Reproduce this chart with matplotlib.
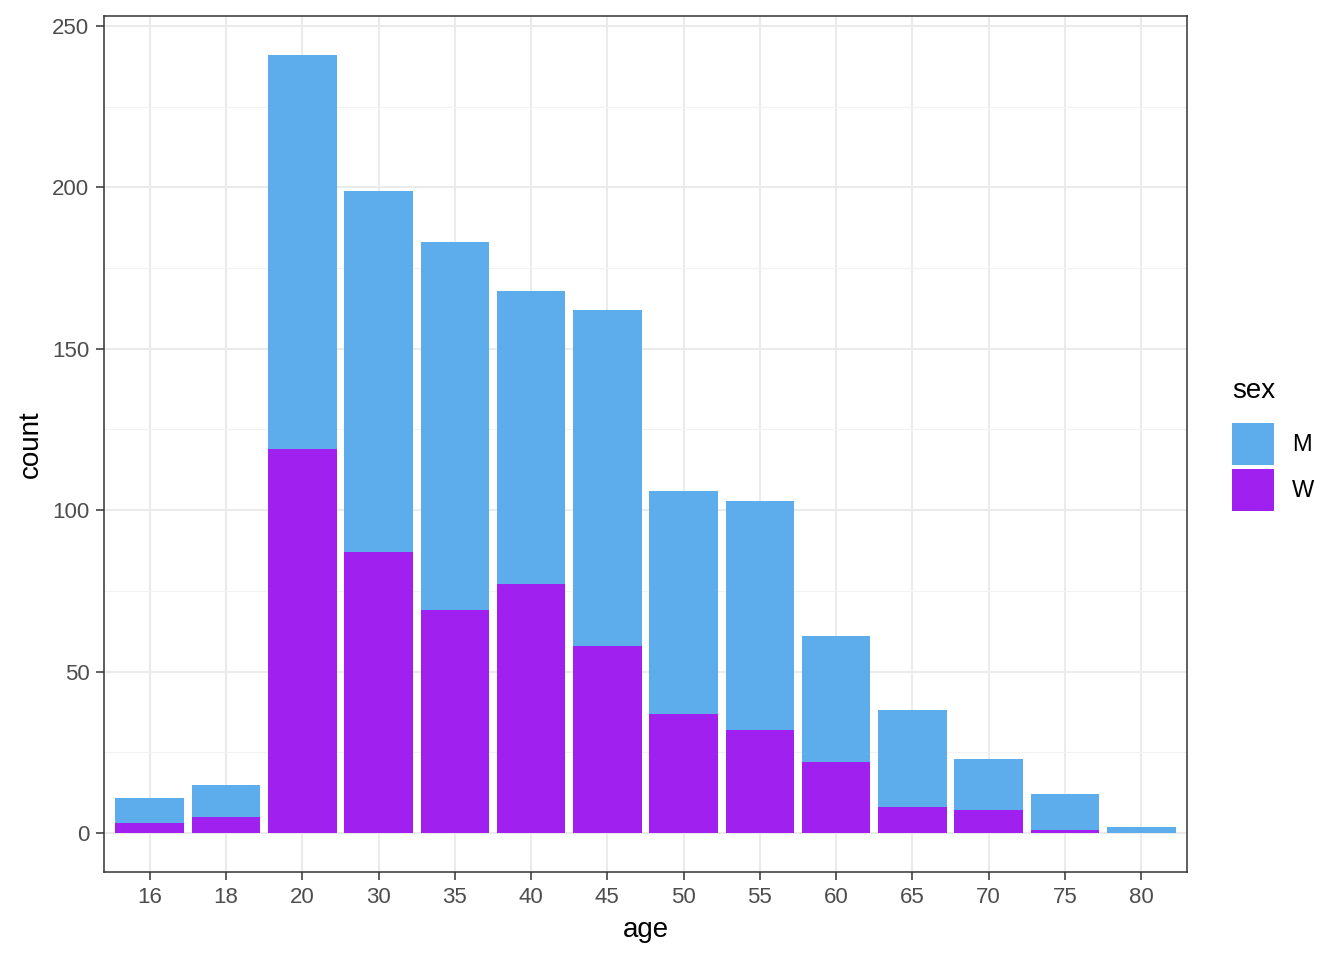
import numpy as np
import matplotlib
matplotlib.use('Agg')
import matplotlib.pyplot as plt
from matplotlib.patches import Patch
from matplotlib.ticker import MultipleLocator

ages = ['16', '18', '20', '30', '35', '40', '45', '50', '55', '60', '65', '70', '75', '80']
count_m = [8, 10, 122, 112, 114, 91, 104, 69, 71, 39, 30, 16, 11, 2]
count_w = [3, 5, 119, 87, 69, 77, 58, 37, 32, 22, 8, 7, 1, 0]

col_m = '#5DADEC'
col_w = '#A020F0'

plt.rcParams['font.family'] = ['Liberation Sans', 'DejaVu Sans']

fig = plt.figure(figsize=(13.44, 9.6), dpi=100)
ax = fig.add_axes([104 / 1344, 1 - 872 / 960, (1187 - 104) / 1344, (872 - 16) / 960])

x = np.arange(len(ages))
w = np.array(count_w)
m = np.array(count_m)
ax.bar(x, w, width=0.9, color=col_w, zorder=3)
ax.bar(x, m, width=0.9, bottom=w, color=col_m, zorder=3)

total = w + m
ymax = total.max()
ax.set_ylim(-0.05 * ymax, ymax * 1.05)
ax.set_xlim(-0.6, len(ages) - 1 + 0.6)

ax.set_xticks(x)
ax.set_xticklabels(ages)
ax.yaxis.set_major_locator(MultipleLocator(50))
ax.yaxis.set_minor_locator(MultipleLocator(25))

ax.grid(which='major', color='#EBEBEB', linewidth=1.5, zorder=0)
ax.grid(which='minor', axis='y', color='#F2F2F2', linewidth=0.8, zorder=0)
ax.set_axisbelow(True)

for s in ax.spines.values():
    s.set_color('#333333')
    s.set_linewidth(1.1)

ax.tick_params(axis='both', which='major', colors='#333333', length=5.5, width=1.1,
               labelsize=16, labelcolor='#4D4D4D', pad=5)
ax.tick_params(axis='both', which='minor', length=0)

ax.set_xlabel('age', fontsize=20, color='black', labelpad=7)
ax.set_ylabel('count', fontsize=20, color='black', labelpad=6)

# legend keys ~42x41 px like ggplot
handles = [Patch(facecolor=col_m, label='M'), Patch(facecolor=col_w, label='W')]
leg = fig.legend(handles=handles, title='sex', loc='upper left',
                 bbox_to_anchor=(1232 / 1344, 1 - 378 / 960),
                 frameon=False, fontsize=17, title_fontsize=20,
                 handlelength=1.78, handleheight=2.3, handletextpad=0.75,
                 labelspacing=0.21, borderaxespad=0, borderpad=0)
leg._legend_box.align = 'left'
leg._legend_box.sep = 14

fig.savefig('out.png', dpi=100)
